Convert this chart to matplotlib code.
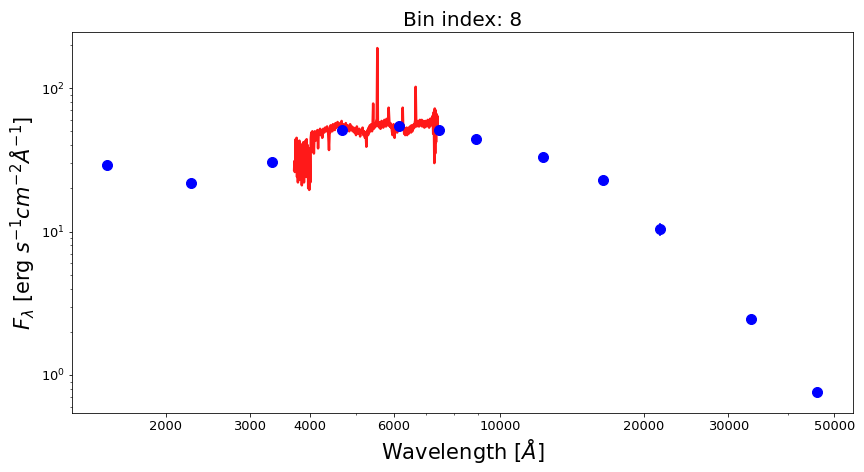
import numpy as np
import matplotlib.pyplot as plt
from matplotlib.ticker import ScalarFormatter, NullFormatter

# Fotometria (longitud de onda en Angstrom, flujo)
phot_wl = [1509, 2260, 3337, 4673, 6150, 7456, 8908, 12300, 16440, 21600, 33470, 46060]
phot_flux = [29.2, 21.9, 30.6, 51.2, 54.6, 51.2, 44.3, 33.2, 22.9, 10.4, 2.45, 0.762]
phot_err = [0.6, 0.5, 0.6, 0.8, 0.8, 0.8, 0.7, 0.7, 0.5, 1.1, 0.06, 0.02]

# Espectro
spec_wl = [3712, 3718, 3724, 3730, 3740, 3748, 3756, 3764, 3772, 3780, 3790, 3798,
           3806, 3815, 3824, 3832, 3842, 3852, 3862, 3872, 3882, 3892, 3902, 3912,
           3922, 3932, 3942, 3952, 3962, 3972, 3982, 3992, 4002, 4012, 4022, 4032,
           4042, 4052, 4062, 4072, 4082, 4092, 4102, 4115, 4128, 4140, 4152, 4165,
           4178, 4190, 4205, 4220, 4235, 4250, 4270, 4290, 4310, 4330, 4350, 4370,
           4390, 4405, 4415, 4425, 4438, 4450, 4462, 4475, 4488, 4500, 4515, 4530,
           4545, 4560, 4575, 4590, 4605, 4620, 4635, 4650, 4665, 4680, 4695, 4710,
           4725, 4740, 4760, 4780, 4800, 4820, 4840, 4860, 4880, 4900, 4920, 4940,
           4960, 4980, 5000, 5020, 5040, 5060, 5080, 5100, 5120, 5140, 5160, 5180,
           5200, 5220, 5240, 5255, 5270, 5285, 5300, 5315, 5330, 5345, 5360, 5380,
           5400, 5415, 5430, 5445, 5458, 5470, 5485, 5500, 5512, 5525, 5540, 5555,
           5568, 5580, 5595, 5610, 5625, 5640, 5655, 5670, 5685, 5700, 5715, 5730,
           5745, 5760, 5775, 5790, 5805, 5820, 5835, 5850, 5870, 5885, 5900, 5915,
           5930, 5945, 5960, 5975, 5990, 6005, 6020, 6035, 6050, 6065, 6080, 6095,
           6110, 6125, 6140, 6155, 6170, 6185, 6200, 6215, 6230, 6245, 6260, 6275,
           6290, 6305, 6320, 6335, 6350, 6365, 6380, 6395, 6410, 6425, 6440, 6455,
           6470, 6485, 6500, 6515, 6530, 6545, 6560, 6575, 6590, 6605, 6620, 6635,
           6650, 6662, 6680, 6695, 6710, 6725, 6740, 6755, 6770, 6785, 6800, 6815,
           6830, 6845, 6860, 6875, 6890, 6905, 6920, 6935, 6950, 6965, 6980, 6995,
           7010, 7025, 7040, 7060, 7080, 7095, 7110, 7125, 7140, 7155, 7170, 7185,
           7200, 7215, 7230, 7250, 7270, 7290, 7305, 7320, 7335, 7350, 7365, 7380,
           7395, 7410]
spec_flux = [27, 31, 26, 30, 44, 28, 45, 24, 40, 22, 42, 27,
             43, 23, 41, 26, 40, 21, 38, 25, 42, 22, 41, 28,
             43, 24, 44, 26, 40, 20, 38, 19.5, 36, 22, 45, 49,
             36, 50, 44, 48, 35, 47, 50, 43, 49, 46, 51, 38,
             50, 48, 52, 47, 51, 45, 52, 49, 53, 50, 54, 51,
             37, 52, 49, 55, 51, 53, 50, 56, 52, 54, 51, 57,
             53, 55, 58, 54, 57, 52, 56, 55, 59, 53, 56, 52,
             55, 53, 57, 51, 55, 53, 50, 56, 51, 54, 50, 53,
             49, 52, 47, 54, 50, 48, 52, 46, 51, 49, 53, 47,
             50, 45, 49, 39, 48, 51, 47, 53, 49, 55, 51, 56,
             50, 54, 78, 52, 56, 53, 57, 54, 59, 61, 190, 57,
             54, 58, 53, 57, 52, 56, 59, 55, 58, 53, 57, 60,
             55, 58, 54, 61, 56, 59, 55, 73, 58, 54, 57, 53,
             55, 50, 47, 53, 56, 51, 45, 52, 55, 50, 54, 49,
             53, 56, 51, 55, 53, 57, 54, 52, 56, 54, 73, 52,
             55, 48, 51, 47, 52, 49, 53, 47, 50, 52, 48, 53,
             50, 54, 51, 49, 55, 52, 50, 54, 52, 56, 53, 57,
             60, 102, 58, 54, 57, 55, 59, 56, 54, 58, 60, 55,
             58, 56, 60, 54, 57, 59, 55, 58, 53, 57, 59, 55,
             58, 54, 57, 60, 55, 58, 53, 57, 61, 56, 59, 55,
             62, 57, 64, 48, 68, 30, 72, 35, 70, 42, 66, 50,
             64, 55]

xticks = [2000, 3000, 4000, 6000, 10000, 20000, 30000, 50000]

fig = plt.figure(figsize=(12, 472 / 72), dpi=72)
ax = fig.add_axes([72 / 864, 1 - 413 / 472, 781 / 864, 381 / 472])

ax.plot(spec_wl, spec_flux, color='red', alpha=0.9, lw=2.5, zorder=2)
ax.errorbar(phot_wl, phot_flux, yerr=phot_err, fmt='o', color='blue',
            ms=10, elinewidth=1.5, zorder=3)

ax.set_xscale('log')
ax.set_yscale('log')
ax.set_xlim(1274, 54700)
ax.set_ylim(0.543, 246)
ax.set_xticks(xticks)
ax.xaxis.set_major_formatter(ScalarFormatter())
ax.xaxis.set_minor_formatter(NullFormatter())
ax.tick_params(labelsize=13)

ax.set_title('Bin index: 8', fontsize=20)
ax.set_xlabel(r'Wavelength [$\AA$]', fontsize=21)
ax.set_ylabel(r'$F_\lambda$ [erg $s^{-1}cm^{-2}\AA^{-1}$]', fontsize=21)

fig.savefig('out.png', dpi=72)
